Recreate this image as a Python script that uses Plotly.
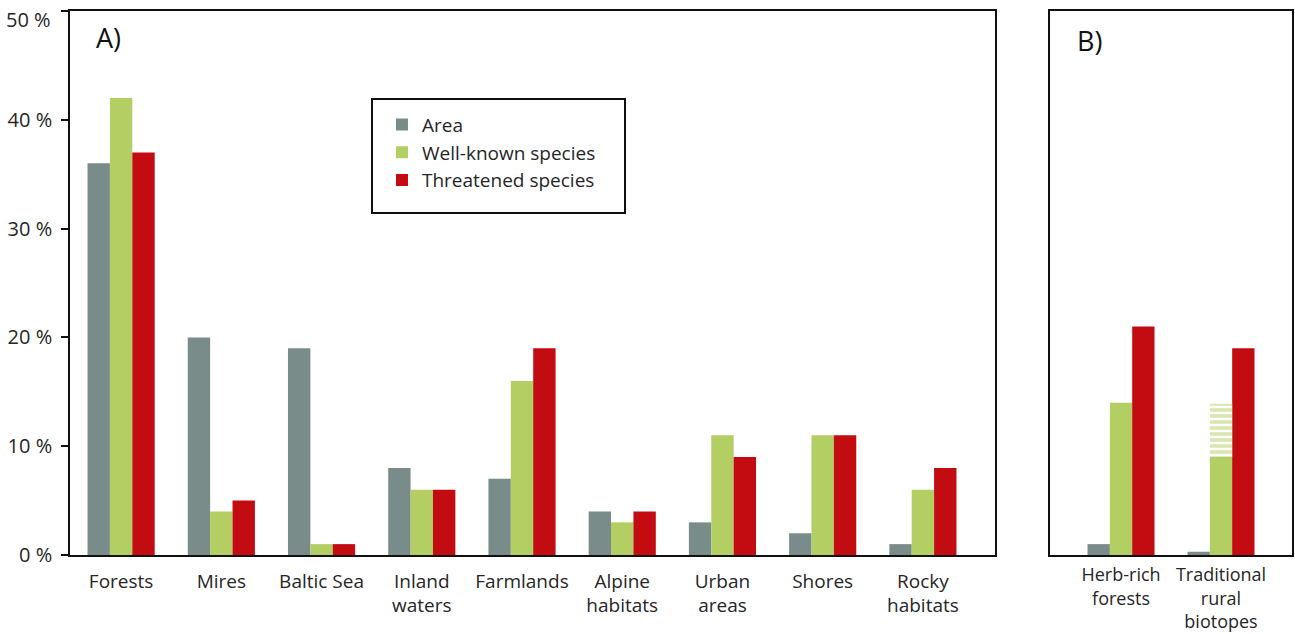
import plotly.graph_objects as go

# Panel A: main habitat types
habitats_a = ["Forests", "Mires", "Baltic Sea", "Inland<br>waters", "Farmlands",
              "Alpine<br>habitats", "Urban<br>areas", "Shores", "Rocky<br>habitats"]
area_a = [36, 20, 19, 8, 7, 4, 3, 2, 1]
wellknown_a = [42, 4, 1, 6, 16, 3, 11, 11, 6]
threatened_a = [37, 5, 1, 6, 19, 4, 9, 11, 8]

# Panel B: selected habitat subtypes
habitats_b = ["Herb-rich<br>forests", "Traditional<br>rural<br>biotopes"]
area_b = [1, 0.3]
wellknown_b = [14, 9]
wellknown_b_upper = [None, 13.9]   # uncertain upper range, drawn hatched
threatened_b = [21, 19]

y_ticks = [0, 10, 20, 30, 40, 50]
y_ticktext = [f"{v} %" for v in y_ticks]

series = ["Area", "Well-known species", "Threatened species"]
colors = {"Area": "#7a8c8a", "Well-known species": "#b3ce63", "Threatened species": "#c30b12"}
groups = {"Area": "area", "Well-known species": "well", "Threatened species": "threat"}

FONT = "'Open Sans', sans-serif"
TEXT = "#262626"
Y_MAX = y_ticks[-1]

fig = go.Figure()

for name, vals in zip(series, [area_a, wellknown_a, threatened_a]):
    fig.add_trace(go.Bar(
        x=habitats_a, y=vals, name=name, marker_color=colors[name],
        marker_line_width=0, offsetgroup=groups[name], legendgroup=groups[name],
        xaxis="x", yaxis="y"))

for name, vals in zip(series, [area_b, wellknown_b, threatened_b]):
    fig.add_trace(go.Bar(
        x=habitats_b, y=vals, name=name, marker_color=colors[name],
        marker_line_width=0, offsetgroup=groups[name], legendgroup=groups[name],
        showlegend=False, xaxis="x2", yaxis="y2"))

# hatched extension of the well-known bar for traditional rural biotopes
hx, hbase, hlen = [], [], []
for cat, lo, hi in zip(habitats_b, wellknown_b, wellknown_b_upper):
    if hi is not None:
        hx.append(cat)
        hbase.append(lo)
        hlen.append(hi - lo)
fig.add_trace(go.Bar(
    x=hx, y=hlen, base=hbase, name="Well-known species (range)",
    offsetgroup="well", showlegend=False, xaxis="x2", yaxis="y2",
    marker=dict(color="white", line_width=0,
                pattern=dict(shape="-", fgcolor=colors["Well-known species"],
                             bgcolor="white", size=6, solidity=0.6))))

axis_line = dict(showline=True, linecolor="#111", linewidth=1.6, mirror=True,
                 showgrid=False, zeroline=False, automargin=False)

# the top label sits just below its tick so it stays inside the page
tick_labels = [t if v != Y_MAX else "" for v, t in zip(y_ticks, y_ticktext)]

fig.update_layout(
    width=1295, height=634,
    margin=dict(l=70, r=3, t=11, b=79),
    paper_bgcolor="white", plot_bgcolor="white",
    barmode="group", bargap=0.33, bargroupgap=0,
    font=dict(family=FONT, size=19, color=TEXT),
    xaxis=dict(domain=[0, 0.757], range=[-0.51, 8.72], ticks="",
               tickfont=dict(size=19), ticklabelstandoff=8, **axis_line),
    yaxis=dict(range=[0, Y_MAX], tickvals=y_ticks, ticktext=tick_labels,
               ticks="outside", ticklen=7, tickwidth=1.6, tickcolor="#111",
               tickfont=dict(size=20), ticklabelstandoff=5, **axis_line),
    xaxis2=dict(domain=[0.802, 1], range=[-0.71, 1.71], ticks="",
                tickfont=dict(size=18), ticklabelstandoff=3, anchor="y2",
                **axis_line),
    yaxis2=dict(range=[0, Y_MAX], anchor="x2", showticklabels=False, ticks="",
                **axis_line),
    legend=dict(x=0.2553, y=0.826, xanchor="left", yanchor="top",
                bgcolor="rgba(0,0,0,0)", borderwidth=0,
                font=dict(size=19, color=TEXT), tracegroupgap=13,
                traceorder="normal"),
    showlegend=True,
    annotations=[
        dict(text=y_ticktext[-1], xref="paper", yref="y", x=-17 / 1222, y=Y_MAX,
             xanchor="right", yanchor="middle", yshift=-8, showarrow=False,
             font=dict(size=20, color=TEXT)),
        dict(text="A)", xref="x domain", yref="y domain", x=0.026, y=0.952,
             xanchor="left", yanchor="middle", showarrow=False,
             font=dict(size=27, color="#111")),
        dict(text="B)", xref="x2 domain", yref="y2 domain", x=0.105, y=0.946,
             xanchor="left", yanchor="middle", showarrow=False,
             font=dict(size=27, color="#111")),
    ],
    shapes=[
        # frame around the legend
        dict(type="rect", xref="paper", yref="paper",
             x0=(372 - 70) / 1222, x1=(625 - 70) / 1222,
             y0=(555 - 213) / 544, y1=(555 - 99) / 544,
             line=dict(color="#111", width=2), fillcolor="rgba(0,0,0,0)"),
    ],
)

fig.write_html("out.html")
